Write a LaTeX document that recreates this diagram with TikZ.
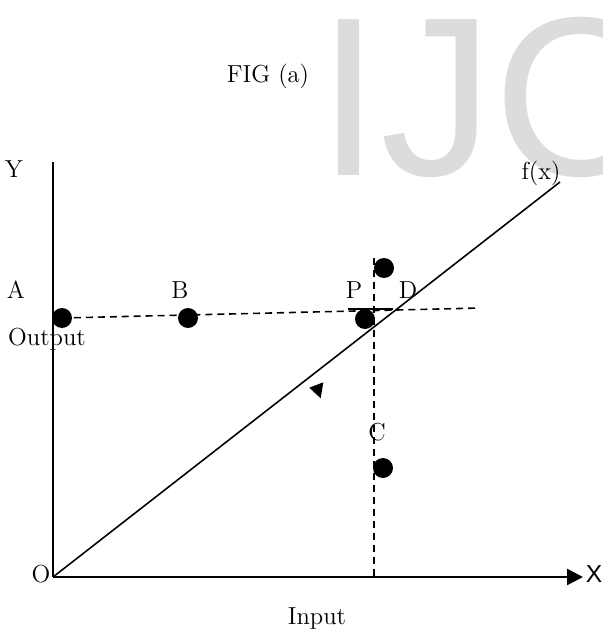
\documentclass[tikz,border=0pt]{standalone}
\usepackage{fontspec}
\usepackage{tikz}
\usetikzlibrary{arrows.meta, positioning}
\newfontfamily\wmfont{Liberation Sans}
\definecolor{wmcolor}{HTML}{DCDCDC}

\begin{document}
\begin{tikzpicture}[x=0.02cm, y=-0.02cm,
    lbl/.style={anchor=base, inner sep=0pt, font=\fontsize{14}{16}\selectfont},
    dot/.style={circle, fill=black, minimum size=0.4cm, inner sep=0pt},
    axis/.style={line width=1.4pt},
    dline/.style={line width=0.9pt, dash pattern=on 4pt off 2.8pt},
    arr/.style={axis, -{Triangle[length=3.2mm, width=3.2mm]}}
]
    \useasboundingbox (0,0) rectangle (602,635);
    \clip (0,0) rectangle (602,635);

    % watermark
    \node[anchor=base west, inner sep=0pt, text=wmcolor,
          font=\wmfont\fontsize{129}{130}\selectfont] (wm) at (317,175) {IJC};

    % title
    \node[lbl] (title) at (268,83) {FIG (a)};

    % axes
    \coordinate (orig) at (53,577);
    \coordinate (ytop) at (53,162);
    \coordinate (xend) at (583,577);
    \draw[axis] (ytop) -- (orig);
    \draw[arr] (orig) -- (xend);

    % f(x) line
    \coordinate (fend) at (560,182);
    \draw[line width=0.9pt] (orig) -- (fend);

    % points
    \node[dot] (dotA) at (62,318) {};
    \node[dot] (dotB) at (188,318) {};
    \node[dot] (dotP) at (365,319) {};
    \node[dot] (dotT) at (384,268) {};
    \node[dot] (dotC) at (383,468) {};

    % dashed guides
    \coordinate (hend) at (480,308);
    \coordinate (vtop) at (374,258);
    \coordinate (vbot) at (374,577);
    \draw[dline] (dotA.center) -- (hend);
    \draw[dline] (vtop) -- (vbot);

    % short mark at P
    \coordinate (pl) at (348,309);
    \coordinate (pr) at (393,309);
    \draw[line width=1pt] (pl) -- (pr);

    % small arrowhead
    \fill (309.3,387.7) -- (323.3,382.3) -- (320.7,398.3) -- cycle;

    % labels
    \node[lbl] (lY) at (14,177) {Y};
    \node[lbl] (lA) at (16,298) {A};
    \node[lbl] (lB) at (180,298) {B};
    \node[lbl] (lP) at (354,298) {P};
    \node[lbl] (lD) at (408,298) {D};
    \node[lbl] (lout) at (47,345) {Output};
    \node[lbl] (lC) at (377,440) {C};
    \node[lbl] (lO) at (41,582) {O};
    \node[lbl, font=\wmfont\fontsize{14}{16}\selectfont] (lX) at (594,582) {X};
    \node[lbl] (lin) at (317,624) {Input};
    \node[lbl] (lf) at (541,179) {f(x)};
\end{tikzpicture}
\end{document}
